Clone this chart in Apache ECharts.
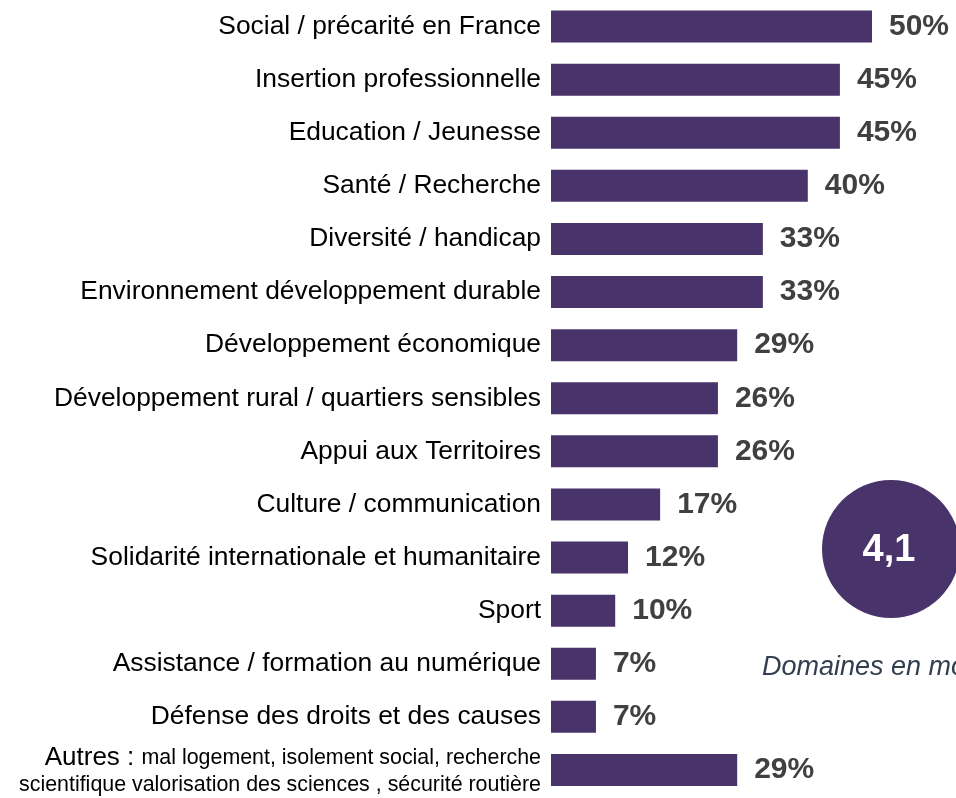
<!DOCTYPE html>
<html><head><meta charset="utf-8">
<script src="https://cdn.jsdelivr.net/npm/echarts@6/dist/echarts.min.js"></script>
<style>html,body{margin:0;padding:0;background:#fff}#c{width:956px;height:798px}</style>
</head><body><div id="c"></div>
<script>
const categories = [
  "Social / précarité en France",
  "Insertion professionnelle",
  "Education / Jeunesse",
  "Santé / Recherche",
  "Diversité / handicap",
  "Environnement développement durable",
  "Développement économique",
  "Développement rural / quartiers sensibles",
  "Appui aux Territoires",
  "Culture / communication",
  "Solidarité internationale et humanitaire",
  "Sport",
  "Assistance / formation au numérique",
  "Défense des droits et des causes",
  "AUTRES"
];
const values = [50, 45, 45, 40, 33, 33, 29, 26, 26, 17, 12, 10, 7, 7, 29];
const autresLine1 = "mal logement, isolement social, recherche";
const autresLine2 = "scientifique valorisation des sciences , sécurité routière";
const averageValue = "4,1";
const averageCaption = "Domaines en moyenne";

const chart = echarts.init(document.getElementById('c'), null, {renderer: 'canvas'});
const FONT = 'Liberation Sans, Arial, sans-serif';
chart.setOption({
  animation: false,
  backgroundColor: '#fff',
  grid: {left: 551, width: 321, top: -0.5, height: 797, containLabel: false},
  xAxis: {type: 'value', min: 0, max: 50, show: false},
  yAxis: {
    type: 'category', inverse: true, data: categories,
    axisLine: {show: false}, axisTick: {show: false},
    axisLabel: {
      margin: 10, color: '#000', fontFamily: FONT, fontSize: 26.4,
      formatter: function (v) {
        if (v === 'AUTRES') return '{big|Autres : }{small|' + autresLine1 + '}\n{small|' + autresLine2 + '}';
        return v;
      },
      rich: {
        big: {fontSize: 26, fontFamily: FONT, color: '#000', lineHeight: 31},
        small: {fontSize: 21.4, fontFamily: FONT, color: '#000', lineHeight: 24}
      }
    }
  },
  series: [{
    type: 'bar', data: values, barWidth: 32,
    itemStyle: {color: '#48336a'},
    label: {
      show: true, position: 'right', distance: 17,
      formatter: '{c}%', color: '#404040', fontFamily: FONT,
      fontSize: 30, fontWeight: 'bold'
    }
  }],
  graphic: [
    {type: 'circle', shape: {cx: 891, cy: 549, r: 69}, style: {fill: '#48336a'}},
    {type: 'text', x: 889, y: 551, style: {text: averageValue, fill: '#fff', font: 'bold 38px ' + FONT, align: 'center', verticalAlign: 'middle'}},
    {type: 'text', x: 762, y: 654, style: {text: averageCaption, fill: '#333f50', font: 'italic 27px ' + FONT, align: 'left', verticalAlign: 'alphabetic'}}
  ]
});
</script></body></html>
